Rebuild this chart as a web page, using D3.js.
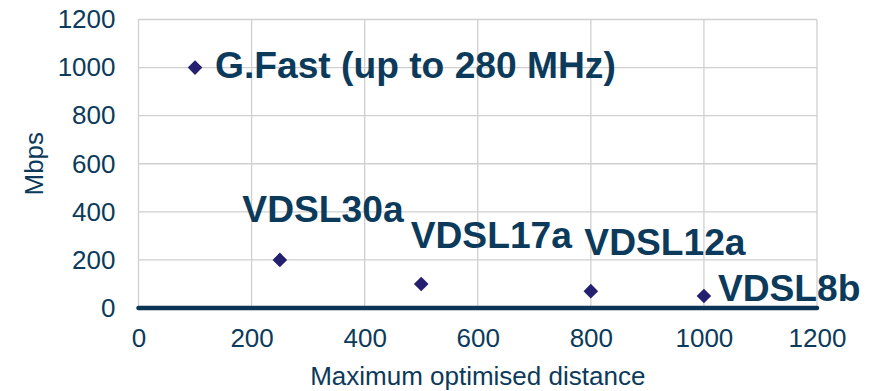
<!DOCTYPE html>
<html>
<head>
<meta charset="utf-8">
<script src="https://cdn.jsdelivr.net/npm/d3@7/dist/d3.min.js"></script>
<style>
  html, body { margin: 0; padding: 0; background: #fff; }
  svg { display: block; font-family: "Liberation Sans", Arial, sans-serif; }
</style>
</head>
<body>
<svg id="chart" width="876" height="391"></svg>
<script>
// DSL technologies: reach (m) vs. peak rate (Mbps)
const technologies = ["G.Fast (up to 280 MHz)", "VDSL30a", "VDSL17a", "VDSL12a", "VDSL8b"];
const distances = [100, 250, 500, 800, 1000];
const speeds = [1000, 200, 100, 70, 50];
const xTicks = [0, 200, 400, 600, 800, 1000, 1200];
const yTicks = [0, 200, 400, 600, 800, 1000, 1200];
const xTitle = "Maximum optimised distance";
const yTitle = "Mbps";

const textColor = "#0c3a5b";
const markerColor = "#241f6e";
const gridColor = "#d0d0d0";

const svg = d3.select("#chart");
const margin = { left: 138.5, right: 59, top: 19.5, bottom: 83 };
const W = 876, H = 391;

const x = d3.scaleLinear().domain([0, 1200]).range([margin.left, W - margin.right]);
const y = d3.scaleLinear().domain([0, 1200]).range([H - margin.bottom, margin.top]);

// gridlines
svg.append("g").selectAll("line.v").data(xTicks).join("line")
  .attr("x1", d => x(d)).attr("x2", d => x(d))
  .attr("y1", y(1200)).attr("y2", y(0))
  .attr("stroke", gridColor).attr("stroke-width", 1.3);
svg.append("g").selectAll("line.h").data(yTicks.filter(d => d > 0)).join("line")
  .attr("x1", x(0)).attr("x2", x(1200))
  .attr("y1", d => y(d)).attr("y2", d => y(d))
  .attr("stroke", gridColor).attr("stroke-width", 1.3);

// bottom axis: bold baseline and tick labels
const xAxis = svg.append("g").attr("transform", `translate(0,${y(0)})`)
  .call(d3.axisBottom(x).tickValues(xTicks).tickSize(0).tickPadding(21).tickFormat(d3.format("d")));
xAxis.select(".domain").remove();
xAxis.selectAll("text").attr("fill", textColor).attr("font-size", 26)
  .attr("font-family", "Liberation Sans, Arial, sans-serif");
svg.append("line")
  .attr("x1", x(0)).attr("x2", x(1200)).attr("y1", y(0)).attr("y2", y(0))
  .attr("stroke", "#0a3554").attr("stroke-width", 4.5).attr("stroke-linecap", "round");

// left axis tick labels
const yAxis = svg.append("g").attr("transform", `translate(${x(0)},0)`)
  .call(d3.axisLeft(y).tickValues(yTicks).tickSize(0).tickPadding(23).tickFormat(d3.format("d")));
yAxis.select(".domain").remove();
yAxis.selectAll("text").attr("fill", textColor).attr("font-size", 26)
  .attr("font-family", "Liberation Sans, Arial, sans-serif");

// axis titles
svg.append("text")
  .attr("x", (x(0) + x(1200)) / 2).attr("y", 385)
  .attr("text-anchor", "middle").attr("fill", textColor).attr("font-size", 26)
  .text(xTitle);
svg.append("text")
  .attr("transform", `translate(43,${(y(0) + y(1200)) / 2}) rotate(-90)`)
  .attr("text-anchor", "middle").attr("fill", textColor).attr("font-size", 26)
  .text(yTitle);

// data points
const points = technologies.map((name, i) => ({ name, d: distances[i], s: speeds[i] }));
const diamond = r => `M0,${-r}L${r},0L0,${r}L${-r},0Z`;
svg.append("g").selectAll("path").data(points).join("path")
  .attr("transform", p => `translate(${x(p.d)},${y(p.s)})`)
  .attr("d", diamond(7.3))
  .attr("fill", markerColor);

// label placement relative to each marker (dx, dy in px, start-anchored)
const labelShift = [[20, 10.5], [-37.5, -38], [-10.5, -35.5], [-6.5, -36.5], [14, 5]];
svg.append("g").selectAll("text").data(points).join("text")
  .attr("x", (p, i) => x(p.d) + labelShift[i][0])
  .attr("y", (p, i) => y(p.s) + labelShift[i][1])
  .attr("fill", textColor).attr("font-size", 37.2).attr("font-weight", "bold")
  .text(p => p.name);
</script>
</body>
</html>
